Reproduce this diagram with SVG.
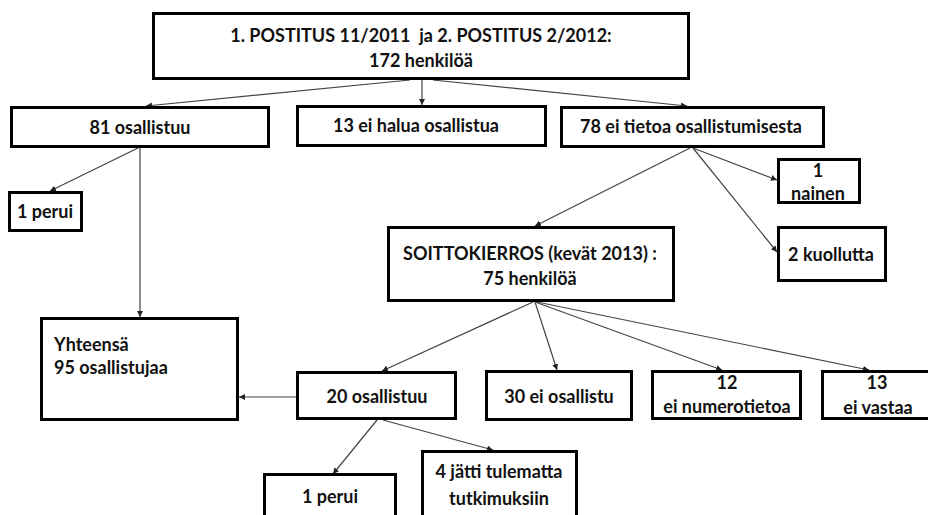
<svg xmlns="http://www.w3.org/2000/svg" width="928" height="515" viewBox="0 0 928 515">
<style>
.box{fill:#fff;stroke:#000;stroke-width:3}
.t{font-family:Lato,"Open Sans","Liberation Sans",sans-serif;font-weight:bold;font-size:18px;fill:#111;text-anchor:middle;white-space:pre}
.l{text-anchor:start}
.c{fill:none;stroke:#444;stroke-width:1.2}
</style>
<defs>
<marker id="a" markerUnits="userSpaceOnUse" markerWidth="8" markerHeight="8" refX="6" refY="3" orient="auto">
<path d="M0,0 L6,3 L0,6 z" fill="#222"/>
</marker>
</defs>
<rect width="928" height="515" fill="#fff"/>
<g id="connectors">
<line class="c" x1="410" y1="80" x2="146" y2="106" marker-end="url(#a)"/>
<line class="c" x1="422" y1="80" x2="422" y2="105" marker-end="url(#a)"/>
<line class="c" x1="433" y1="80" x2="687" y2="106" marker-end="url(#a)"/>
<line class="c" x1="138" y1="148" x2="50" y2="191" marker-end="url(#a)"/>
<line class="c" x1="140" y1="148" x2="140" y2="317" marker-end="url(#a)"/>
<line class="c" x1="693" y1="148" x2="777" y2="180" marker-end="url(#a)"/>
<line class="c" x1="693" y1="148" x2="777" y2="252" marker-end="url(#a)"/>
<line class="c" x1="690" y1="148" x2="535" y2="226" marker-end="url(#a)"/>
<line class="c" x1="533" y1="302" x2="382" y2="371" marker-end="url(#a)"/>
<line class="c" x1="535" y1="302" x2="557" y2="370" marker-end="url(#a)"/>
<line class="c" x1="535" y1="302" x2="722" y2="370" marker-end="url(#a)"/>
<line class="c" x1="537" y1="302" x2="869" y2="370" marker-end="url(#a)"/>
<line class="c" x1="296" y1="397" x2="239" y2="397" marker-end="url(#a)"/>
<line class="c" x1="377" y1="420" x2="333" y2="474" marker-end="url(#a)"/>
<line class="c" x1="383" y1="420" x2="493" y2="450" marker-end="url(#a)"/>
</g>
<g id="n_top"><rect class="box" x="153.5" y="13.5" width="535" height="65"/>
<text class="t" x="421" y="42">1. POSTITUS 11/2011  ja 2. POSTITUS 2/2012:</text>
<text class="t" x="421" y="67">172 henkilöä</text></g>
<g id="n_81"><rect class="box" x="11.5" y="107.5" width="257" height="39"/>
<text class="t" x="140" y="134">81 osallistuu</text></g>
<g id="n_13"><rect class="box" x="297.5" y="106.5" width="248" height="39"/>
<text class="t" x="416" y="132">13 ei halua osallistua</text></g>
<g id="n_78"><rect class="box" x="561.5" y="107.5" width="262" height="39"/>
<text class="t" x="691" y="133">78 ei tietoa osallistumisesta</text></g>
<g id="n_nainen"><rect class="box" x="778.5" y="159.5" width="81" height="43"/>
<text class="t" x="818" y="177">1</text>
<text class="t" x="818" y="200">nainen</text></g>
<g id="n_kuollutta"><rect class="box" x="778.5" y="227.5" width="107" height="53"/>
<text class="t" x="831" y="261">2 kuollutta</text></g>
<g id="n_perui1"><rect class="box" x="9.5" y="192.5" width="72" height="38"/>
<text class="t" x="45" y="218">1 perui</text></g>
<g id="n_soitto"><rect class="box" x="388.5" y="227.5" width="285" height="73"/>
<text class="t" x="530" y="260">SOITTOKIERROS (kevät 2013) :</text>
<text class="t" x="530" y="285">75 henkilöä</text></g>
<g id="n_yht"><rect class="box" x="41.5" y="318.5" width="196" height="101"/>
<text class="t l" x="54" y="351">Yhteensä</text>
<text class="t l" x="54" y="374">95 osallistujaa</text></g>
<g id="n_20"><rect class="box" x="297.5" y="372.5" width="158" height="46"/>
<text class="t" x="377" y="403">20 osallistuu</text></g>
<g id="n_30"><rect class="box" x="486.5" y="371.5" width="145" height="48"/>
<text class="t" x="559" y="403">30 ei osallistu</text></g>
<g id="n_12"><rect class="box" x="652.5" y="371.5" width="148" height="47"/>
<text class="t" x="727" y="389">12</text>
<text class="t" x="727" y="413">ei numerotietoa</text></g>
<g id="n_13v"><rect class="box" x="822.5" y="371.5" width="108" height="47"/>
<text class="t" x="877" y="389">13</text>
<text class="t" x="878" y="414">ei vastaa</text></g>
<g id="n_perui2"><rect class="box" x="264.5" y="474.5" width="131" height="50"/>
<text class="t" x="330" y="503">1 perui</text></g>
<g id="n_jatti"><rect class="box" x="422.5" y="451.5" width="154" height="70"/>
<text class="t" x="499" y="478">4 jätti tulematta</text>
<text class="t" x="499" y="505">tutkimuksiin</text></g>
</svg>
